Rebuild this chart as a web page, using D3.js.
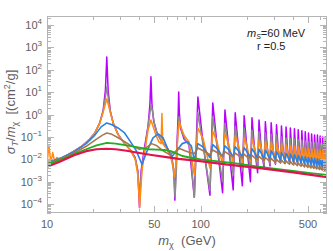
<!DOCTYPE html>
<html lang="en">
<head>
<meta charset="utf-8">
<title>sigma_T / m vs m</title>
<style>
  body { margin: 0; background: #fff; }
  svg text { font-family: "Liberation Sans", Arial, sans-serif; }
</style>
</head>
<body>
<div id="chart"></div>
<script src="https://cdn.jsdelivr.net/npm/d3@7"></script>
<script>
// curves: [m_chi (GeV), sigma_T/m (cm^2/g)]
var purpleData = [
  [10,5.5e-3],[11,7e-3],[12,9.5e-3],[13.5,1.5e-2],[15,2.3e-2],[17,4e-2],[19,8e-2],[20.5,0.15],[22,0.4],[23.2,1.5],[24,12],[24.5,370],[25,12],[25.8,1.5],[27,0.4],[29,0.13],[32,5e-2],[35,2.5e-2],[37.5,1.2e-2],[39,3e-3],[40,7e-5],[41,3e-3],[43,3e-2],[45.5,0.3],[46.8,3],[47.5,48],[48.2,3],[49.5,0.5],[52,0.15],[56,6e-2],[61,3e-2],[65,1.2e-2],[67,3e-3],[68,1.5e-4],[69,3e-3],[70.5,0.1],[71.5,1.2],[72,10],[72.7,1.2],[74,0.25],[78,8e-2],[84,4.5e-2],
  [91,2e-4],[96,6.1],[104,4.5e-2],[115,2.5e-4],[120,3.3],[128,4.2e-2],[139,3.2e-4],[144,1.6],[152,4e-2],[163,4.3e-4],[168,1.2],[176,3.8e-2],
  [187,6.5e-4],[192,0.87],[200,3.6e-2],[211,1e-3],[216,0.71],[224,3.4e-2],[235,2.5e-3],[240,0.57],[248,3.2e-2],[259,4e-3],[264,0.47],[272,3e-2],
  [283,5e-3],[288,0.43],[296,2.9e-2],[307,6e-3],[312,0.35],[320,2.8e-2],[331,7e-3],[336,0.31],[344,2.7e-2],[355,7e-3],[360,0.28],[368,2.6e-2],
  [379,7.5e-3],[384,0.25],[392,2.5e-2],[403,7.5e-3],[408,0.23],[416,2.4e-2],[427,8e-3],[432,0.21],[440,2.3e-2],[451,8e-3],[456,0.19],[464,2.2e-2],
  [475,8.5e-3],[480,0.17],[488,2.2e-2],[499,8.5e-3],[504,0.15],[512,2.1e-2],[523,9e-3],[528,0.135],[536,2.1e-2],[547,9e-3],[552,0.12],[560,2e-2],
  [571,9e-3],[576,0.12],[584,2e-2],[595,9e-3],[600,0.11],[608,2e-2],[619,9e-3],[624,0.1],[632,1.9e-2],[643,9e-3],[648,0.1],[656,1.9e-2],[665,1.9e-2]
];
var grayData = [
  [10,5.5e-3],[11,7e-3],[12,9.5e-3],[13.5,1.5e-2],[15,2.3e-2],[17,4e-2],[19,8e-2],[20.5,0.15],[22,0.4],[23.2,1.4],[24,6],[24.5,17],[25,6],[25.8,1.4],[27,0.4],[29,0.13],[32,5e-2],[35,2.5e-2],[37.5,1.1e-2],[39,3e-3],[40.2,3e-4],[41.5,4e-3],[43.5,3e-2],[45.5,0.3],[47,1.5],[47.7,2.7],[48.5,1.5],[50,0.4],[52,0.15],[56,6e-2],[61,2.8e-2],[65,1e-2],[67,2e-3],[68.2,2e-4],[69.5,3e-3],[71,0.15],[72.2,0.8],[73.5,0.4],[76,0.15],[80,7e-2],[85,4e-2],
  [91,2e-4],[96,1.2],[104,4e-2],[115,4e-4],[120,0.8],[128,3.8e-2],[139,1e-3],[144,0.4],[152,3.6e-2],[163,2e-3],[168,0.3],[176,3.4e-2],
  [187,3e-3],[192,0.25],[200,3.2e-2],[211,4e-3],[216,0.2],[224,3e-2],[235,5e-3],[240,0.17],[248,2.8e-2],[259,5.5e-3],[264,0.15],[272,2.7e-2],
  [283,6e-3],[288,0.13],[296,2.6e-2],[307,6.5e-3],[312,0.12],[320,2.5e-2],[331,7e-3],[336,0.1],[344,2.4e-2],[355,7.5e-3],[360,0.09],[368,2.3e-2],
  [379,8e-3],[384,0.085],[392,2.2e-2],[403,8e-3],[408,0.08],[416,2.1e-2],[427,8.5e-3],[432,0.075],[440,2e-2],[451,8.5e-3],[456,0.07],[464,2e-2],
  [475,9e-3],[480,0.065],[488,1.9e-2],[499,9e-3],[504,0.06],[512,1.9e-2],[523,9e-3],[528,0.057],[536,1.8e-2],[547,9e-3],[552,0.055],[560,1.8e-2],
  [571,9e-3],[576,0.053],[584,1.7e-2],[595,9e-3],[600,0.05],[608,1.7e-2],[619,9e-3],[624,0.048],[632,1.6e-2],[643,9e-3],[648,0.046],[656,1.6e-2],[665,1.6e-2]
];
var orangeData = [
  [10,6e-3],[10.3,4e-2],[10.6,7e-3],[10.9,2e-2],[11.2,8e-3],[11.6,1.2e-2],[12,1e-2],[13.5,1.5e-2],[15,2.3e-2],[17,4e-2],[19,8e-2],[20.5,0.15],[22,0.4],[23.2,1.3],[24,3],[24.5,5],[25,3],[25.8,1.3],[27,0.4],[29,0.13],[32,5e-2],[35,2.5e-2],[37.5,1e-2],[39,2e-3],[40.1,7e-5],[41.5,3e-3],[43.5,3e-2],[45.5,0.2],[47.5,0.57],[49,0.3],[51,0.13],[53.5,6e-2],[55.3,5e-2],[56,1.1],[56.7,5e-2],[60,3e-2],[64,1.2e-2],[66.5,4e-3],[67.7,1.6e-3],[69,5e-3],[71,0.1],[72.5,0.5],[74,0.3],[78,0.12],[84,6e-2],
  [91,2e-3],[96,0.25],[104,8e-2],[115,4e-3],[120,0.18],[128,6e-2],[139,6e-3],[144,0.14],[152,5e-2],[163,7e-3],[168,0.11],[176,4.5e-2],
  [187,7.5e-3],[192,9e-2],[200,4e-2],[211,8e-3],[216,8e-2],[224,3.6e-2],[235,8e-3],[240,7e-2],[248,3.3e-2],[259,8e-3],[264,6.3e-2],[272,3e-2],
  [283,8e-3],[288,5.7e-2],[296,2.8e-2],[307,7.8e-3],[312,5.2e-2],[320,2.6e-2],[331,7.6e-3],[336,4.8e-2],[344,2.4e-2],[355,7.4e-3],[360,4.4e-2],[368,2.3e-2],
  [379,7.2e-3],[384,4.1e-2],[392,2.2e-2],[403,7e-3],[408,3.8e-2],[416,2.1e-2],[427,6.8e-3],[432,3.6e-2],[440,2e-2],[451,6.6e-3],[456,3.4e-2],[464,1.9e-2],
  [475,6.4e-3],[480,3.2e-2],[488,1.8e-2],[499,6.2e-3],[504,3e-2],[512,1.7e-2],[523,6e-3],[528,2.9e-2],[536,1.6e-2],[547,5.8e-3],[552,2.8e-2],[560,1.5e-2],
  [571,5.6e-3],[576,2.7e-2],[584,1.4e-2],[595,5.4e-3],[600,2.6e-2],[608,1.3e-2],[619,5.2e-3],[624,2.5e-2],[632,1.2e-2],[643,5e-3],[648,2.4e-2],[656,1.1e-2],[665,6e-3]
];
var blueData = [
  [10,7e-3],[12.5,1.2e-2],[15,2.2e-2],[18,5e-2],[20.5,0.12],[22.5,0.28],[24.5,0.42],[26.5,0.35],[29,0.25],[32,0.15],[35,6e-2],[38,2.5e-2],[41.5,6e-3],[45,2.5e-2],[49,9e-2],[53,0.135],[57,9e-2],[61,3e-2],[65,1.3e-2],[70,2.5e-2],[76,5e-2],[82,6e-2],[87,4e-2],
  [91,9e-3],[96,5e-2],[104,3.5e-2],[115,1.2e-2],[120,4.5e-2],[128,3e-2],[139,1.3e-2],[144,4e-2],[152,2.7e-2],[163,1.3e-2],[168,3.6e-2],[176,2.4e-2],
  [187,1.3e-2],[192,3.3e-2],[200,2.2e-2],[211,1.2e-2],[216,3e-2],[224,2e-2],[235,1.1e-2],[240,2.8e-2],[248,1.9e-2],[259,1.05e-2],[264,2.6e-2],[272,1.8e-2],
  [283,1e-2],[288,2.4e-2],[296,1.7e-2],[307,9.5e-3],[312,2.2e-2],[320,1.6e-2],[331,9e-3],[336,2e-2],[344,1.5e-2],[355,8.5e-3],[360,1.85e-2],[368,1.4e-2],
  [379,8e-3],[384,1.7e-2],[392,1.3e-2],[403,7.5e-3],[408,1.6e-2],[416,1.2e-2],[427,7e-3],[432,1.5e-2],[440,1.1e-2],[451,6.5e-3],[456,1.4e-2],[464,1e-2],
  [475,6e-3],[480,1.3e-2],[488,9.5e-3],[499,5.7e-3],[504,1.2e-2],[512,9e-3],[523,5.4e-3],[528,1.15e-2],[536,8.5e-3],[547,5.1e-3],[552,1.1e-2],[560,8e-3],
  [571,4.8e-3],[576,1.05e-2],[584,7.5e-3],[595,4.5e-3],[600,1e-2],[608,7e-3],[619,4.2e-3],[624,9.5e-3],[632,6.5e-3],[643,4e-3],[648,9e-3],[656,5e-3],[665,2.8e-3]
];
var brownData = [
  [10,6.5e-3],[12.5,1.1e-2],[15,1.9e-2],[18,3.8e-2],[21,8e-2],[23,0.12],[24.5,0.15],[26.5,0.13],[30,8e-2],[35,4.2e-2],[40,2.8e-2],[44,3.2e-2],[48,5e-2],[52,4e-2],[57,2.4e-2],[62,1.7e-2],[67,2e-2],[73,3e-2],[79,2.4e-2],[85,2e-2],
  [91,1.8e-2],[96,3.2e-2],[104,2.4e-2],[115,1.6e-2],[120,2.6e-2],[128,2e-2],[139,1.4e-2],[144,2.2e-2],[152,1.7e-2],[163,1.3e-2],[168,1.9e-2],[176,1.5e-2],
  [187,1.15e-2],[192,1.7e-2],[200,1.3e-2],[211,1.05e-2],[216,1.5e-2],[224,1.2e-2],[235,9.5e-3],[240,1.35e-2],[248,1.1e-2],[259,8.7e-3],[264,1.2e-2],[272,1e-2],
  [283,8e-3],[288,1.1e-2],[296,9e-3],[307,7.4e-3],[312,1e-2],[320,8.3e-3],[331,6.9e-3],[336,9.3e-3],[344,7.7e-3],[355,6.4e-3],[360,8.6e-3],[368,7.1e-3],
  [379,6e-3],[384,8e-3],[392,6.6e-3],[403,5.6e-3],[408,7.4e-3],[416,6.2e-3],[427,5.2e-3],[432,6.9e-3],[440,5.8e-3],[451,4.9e-3],[456,6.5e-3],[464,5.4e-3],
  [475,4.6e-3],[480,6.1e-3],[488,5.1e-3],[499,4.3e-3],[504,5.7e-3],[512,4.8e-3],[523,4.1e-3],[528,5.4e-3],[536,4.5e-3],[547,3.9e-3],[552,5.1e-3],[560,4.3e-3],
  [571,3.7e-3],[576,4.8e-3],[584,4.1e-3],[595,3.5e-3],[600,4.6e-3],[608,3.9e-3],[619,3.3e-3],[624,4.4e-3],[632,3.7e-3],[643,3.2e-3],[648,4.2e-3],[656,3.5e-3],[665,3.3e-3]
];
var greenData = [
  [10,6e-3],[12.5,1e-2],[15,1.7e-2],[18,2.8e-2],[21,4.2e-2],[24.5,5.4e-2],[28,5e-2],[33,4.2e-2],[40,3.3e-2],[46,2.8e-2],[52,2.7e-2],[58,2.6e-2],[64,2.3e-2],[70,1.8e-2],[76,1.4e-2],[85,1.2e-2],
  [100,1e-2],[130,8e-3],[170,6.5e-3],[220,5e-3],[300,3.8e-3],[400,3e-3],[520,2.4e-3],[665,2e-3]
];
var redData = [
  [10,4.6e-3],[12,7.5e-3],[15,1.5e-2],[18,2.3e-2],[21,2.8e-2],[24.5,2.95e-2],[28,2.8e-2],[33,2.4e-2],[40,1.9e-2],[48,1.55e-2],[60,1.25e-2],[72,1.05e-2],
  [96,8.5e-3],[150,5.8e-3],[250,3.9e-3],[400,2.6e-3],[665,1.6e-3]
];

var seriesColors = ["#b900ff", "#8c8c8c", "#ff8a14", "#2a80e6", "#a9774e", "#23ad23", "#e0134d"];
var seriesWidths = [1.5, 1.5, 1.5, 1.6, 1.6, 1.8, 2.2];

var xMajorTicks = [10, 50, 100, 500];
var xMinorTicks = [20, 30, 40, 60, 70, 80, 90, 200, 300, 400, 600];
var yExponents = [-4, -3, -2, -1, 0, 1, 2, 3, 4];
var legendLines = ["=60 MeV", "r =0.5"];

var width = 333, height = 251;
var plotL = 47, plotR = 327, plotT = 16, plotB = 213;

var svg = d3.select("#chart").append("svg")
    .attr("width", width)
    .attr("height", height);

var x = d3.scaleLog().domain([10, 665]).range([plotL, plotR]);
var y = d3.scaleLog().domain([Math.pow(10, -4.4), Math.pow(10, 4.4)]).range([plotB, plotT]);

svg.append("clipPath").attr("id", "plotclip")
  .append("rect")
    .attr("x", plotL).attr("y", plotT)
    .attr("width", plotR - plotL).attr("height", plotB - plotT);

var line = d3.line()
    .x(function(d) { return x(d[0]); })
    .y(function(d) { return y(d[1]); });

var allSeries = [purpleData, grayData, orangeData, blueData, brownData, greenData, redData];

svg.append("g").attr("clip-path", "url(#plotclip)")
  .selectAll("path")
  .data(allSeries)
  .enter().append("path")
    .attr("d", line)
    .attr("fill", "none")
    .attr("stroke", function(d, i) { return seriesColors[i]; })
    .attr("stroke-width", function(d, i) { return seriesWidths[i]; })
    .attr("stroke-linejoin", "round");

// frame + ticks, mathematica style (ticks inside on all sides)
var frameColor = "#b4b4b4";
var g = svg.append("g").attr("stroke", frameColor).attr("stroke-width", 1);
g.append("rect")
  .attr("x", plotL + 0.5).attr("y", plotT + 0.5)
  .attr("width", plotR - plotL - 1).attr("height", plotB - plotT - 1)
  .attr("fill", "none");

function xTick(v, len) {
  var px = Math.round(x(v)) + 0.5;
  g.append("line").attr("x1", px).attr("x2", px).attr("y1", plotB).attr("y2", plotB - len);
  g.append("line").attr("x1", px).attr("x2", px).attr("y1", plotT).attr("y2", plotT + len);
}
xMajorTicks.forEach(function(v) { xTick(v, 7); });
xMinorTicks.forEach(function(v) { xTick(v, 4); });

function yTick(v, len) {
  var py = Math.round(y(v)) + 0.5;
  g.append("line").attr("x1", plotL).attr("x2", plotL + len).attr("y1", py).attr("y2", py);
  g.append("line").attr("x1", plotR).attr("x2", plotR - len).attr("y1", py).attr("y2", py);
}
for (var e = -5; e <= 4; e++) {
  for (var k = 1; k <= 9; k++) {
    var v = k * Math.pow(10, e);
    if (v < y.domain()[0] || v > y.domain()[1]) continue;
    yTick(v, k === 1 ? 7 : 4);
  }
}

// tick labels
var labelColor = "#606060";
svg.selectAll(".xlab")
  .data(xMajorTicks)
  .enter().append("text")
    .attr("class", "xlab")
    .attr("x", function(d) { return x(d); })
    .attr("y", 228)
    .attr("text-anchor", "middle")
    .attr("font-size", 11)
    .attr("fill", labelColor)
    .text(function(d) { return d; });

var ylab = svg.selectAll(".ylab")
  .data(yExponents)
  .enter().append("text")
    .attr("class", "ylab")
    .attr("x", 42)
    .attr("y", function(d) { return y(Math.pow(10, d)) + 4; })
    .attr("text-anchor", "end")
    .attr("font-size", 11)
    .attr("fill", labelColor);
ylab.append("tspan").text("10");
ylab.append("tspan")
    .attr("dy", -5)
    .attr("font-size", 8)
    .text(function(d) { return d < 0 ? "\u2212" + (-d) : d; });

// axis titles
var xt = svg.append("text")
    .attr("x", 187).attr("y", 245)
    .attr("text-anchor", "middle")
    .attr("font-size", 13)
    .attr("fill", labelColor)
    .style("white-space", "pre");
xt.append("tspan").attr("font-style", "italic").text("m");
xt.append("tspan").attr("dy", 3).attr("font-size", 9).text("\u03c7");
xt.append("tspan").attr("dy", -3).text("  (GeV)");

var yt = svg.append("text")
    .attr("transform", "translate(15,112) rotate(-90)")
    .attr("text-anchor", "middle")
    .attr("font-size", 13)
    .attr("fill", labelColor)
    .style("white-space", "pre");
yt.append("tspan").attr("font-style", "italic").text("\u03c3");
yt.append("tspan").attr("dy", 3).attr("font-size", 9).attr("font-style", "italic").text("T");
yt.append("tspan").attr("dy", -3).text("/");
yt.append("tspan").attr("font-style", "italic").text("m");
yt.append("tspan").attr("dy", 3).attr("font-size", 9).text("\u03c7");
yt.append("tspan").attr("dy", -3).text("  [(cm");
yt.append("tspan").attr("dy", -5).attr("font-size", 9).text("2");
yt.append("tspan").attr("dy", 5).text("/g]");

// parameter labels
var lt = svg.append("text")
    .attr("x", 247).attr("y", 37)
    .attr("font-size", 11)
    .attr("fill", "#222");
lt.append("tspan").attr("font-style", "italic").text("m");
lt.append("tspan").attr("dy", 2).attr("font-size", 7).attr("font-style", "italic").text("S");
lt.append("tspan").attr("dy", -2).text(legendLines[0]);

svg.append("text")
    .attr("x", 257).attr("y", 50)
    .attr("font-size", 11)
    .attr("fill", "#222")
    .text(legendLines[1]);
</script>
</body>
</html>
